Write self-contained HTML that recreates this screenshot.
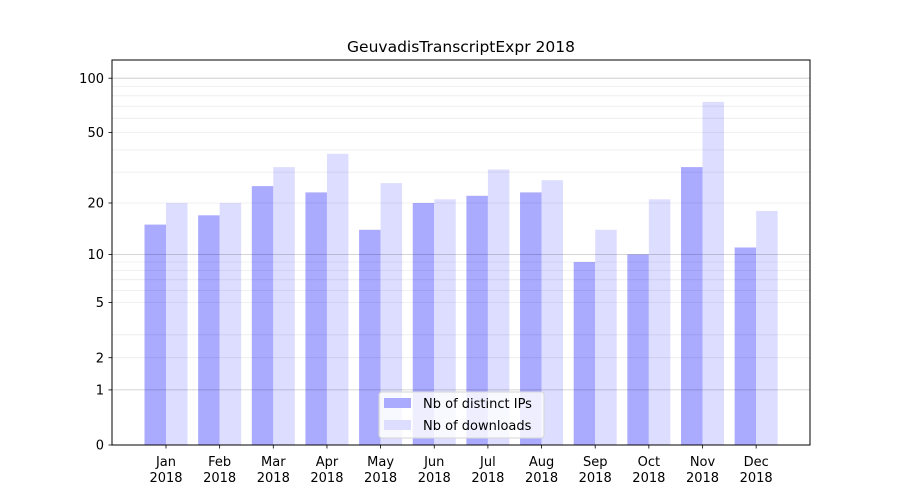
<!DOCTYPE html>
<html><head><meta charset="utf-8"><style>body{margin:0;background:#fff}svg{display:block;font-family:"DejaVu Sans","Liberation Sans",sans-serif}</style></head><body>
<svg width="900" height="500" viewBox="0 0 900 500" xmlns="http://www.w3.org/2000/svg">
<rect width="900" height="500" fill="#fff"/>
<g fill="#aaaaff">
<rect x="144.5" y="224.6" width="21.5" height="220.4"/>
<rect x="198.15" y="215.3" width="21.5" height="229.7"/>
<rect x="251.8" y="186.1" width="21.5" height="258.9"/>
<rect x="305.45" y="192.4" width="21.5" height="252.6"/>
<rect x="359.1" y="229.8" width="21.5" height="215.2"/>
<rect x="412.75" y="203" width="21.5" height="242"/>
<rect x="466.4" y="195.8" width="21.5" height="249.2"/>
<rect x="520.05" y="192.4" width="21.5" height="252.6"/>
<rect x="573.7" y="262" width="21.5" height="183"/>
<rect x="627.35" y="254.4" width="21.5" height="190.6"/>
<rect x="681" y="167.1" width="21.5" height="277.9"/>
<rect x="734.65" y="247.5" width="21.5" height="197.5"/>
</g>
<g fill="#ddddff">
<rect x="166" y="203" width="21.5" height="242"/>
<rect x="219.65" y="203" width="21.5" height="242"/>
<rect x="273.3" y="167.1" width="21.5" height="277.9"/>
<rect x="326.95" y="153.8" width="21.5" height="291.2"/>
<rect x="380.6" y="183.1" width="21.5" height="261.9"/>
<rect x="434.25" y="199.3" width="21.5" height="245.7"/>
<rect x="487.9" y="169.5" width="21.5" height="275.5"/>
<rect x="541.55" y="180.2" width="21.5" height="264.8"/>
<rect x="595.2" y="229.8" width="21.5" height="215.2"/>
<rect x="648.85" y="199.3" width="21.5" height="245.7"/>
<rect x="702.5" y="101.9" width="21.5" height="343.1"/>
<rect x="756.15" y="211" width="21.5" height="234"/>
</g>
<g stroke="#000" stroke-opacity="0.08" stroke-width="0.8">
<line x1="112" x2="810" y1="357.7" y2="357.7"/><line x1="112" x2="810" y1="334.8" y2="334.8"/><line x1="112" x2="810" y1="302.6" y2="302.6"/><line x1="112" x2="810" y1="290.4" y2="290.4"/><line x1="112" x2="810" y1="279.7" y2="279.7"/><line x1="112" x2="810" y1="270.4" y2="270.4"/><line x1="112" x2="810" y1="262" y2="262"/>
<line x1="112" x2="810" y1="203" y2="203"/><line x1="112" x2="810" y1="172.1" y2="172.1"/><line x1="112" x2="810" y1="149.9" y2="149.9"/><line x1="112" x2="810" y1="132.5" y2="132.5"/><line x1="112" x2="810" y1="118.3" y2="118.3"/><line x1="112" x2="810" y1="106.2" y2="106.2"/><line x1="112" x2="810" y1="95.8" y2="95.8"/><line x1="112" x2="810" y1="86.5" y2="86.5"/>
</g>
<g stroke="#000" stroke-opacity="0.22" stroke-width="0.8">
<line x1="112" x2="810" y1="389.9" y2="389.9"/><line x1="112" x2="810" y1="254.4" y2="254.4"/><line x1="112" x2="810" y1="78.2" y2="78.2"/>
</g>
<rect x="112" y="60" width="698" height="385" fill="none" stroke="#000" stroke-width="1"/>
<g stroke="#000" stroke-width="0.8">
<line x1="108.5" x2="112" y1="445" y2="445"/><line x1="108.5" x2="112" y1="389.9" y2="389.9"/><line x1="108.5" x2="112" y1="357.7" y2="357.7"/><line x1="108.5" x2="112" y1="302.6" y2="302.6"/><line x1="108.5" x2="112" y1="254.4" y2="254.4"/><line x1="108.5" x2="112" y1="203" y2="203"/><line x1="108.5" x2="112" y1="132.5" y2="132.5"/><line x1="108.5" x2="112" y1="78.2" y2="78.2"/>
<line x1="166" x2="166" y1="445" y2="448.5"/><line x1="219.65" x2="219.65" y1="445" y2="448.5"/><line x1="273.3" x2="273.3" y1="445" y2="448.5"/><line x1="326.95" x2="326.95" y1="445" y2="448.5"/><line x1="380.6" x2="380.6" y1="445" y2="448.5"/><line x1="434.25" x2="434.25" y1="445" y2="448.5"/><line x1="487.9" x2="487.9" y1="445" y2="448.5"/><line x1="541.55" x2="541.55" y1="445" y2="448.5"/><line x1="595.2" x2="595.2" y1="445" y2="448.5"/><line x1="648.85" x2="648.85" y1="445" y2="448.5"/><line x1="702.5" x2="702.5" y1="445" y2="448.5"/><line x1="756.15" x2="756.15" y1="445" y2="448.5"/>
</g>
<g font-size="13" text-anchor="end" fill="#000">
<text x="104" y="449.5">0</text><text x="104" y="394.5">1</text><text x="104" y="362.5">2</text><text x="104" y="307">5</text><text x="104" y="259">10</text><text x="104" y="207.5">20</text><text x="104" y="137">50</text><text x="104" y="83">100</text>
</g>
<g font-size="13" text-anchor="middle" fill="#000">
<text x="166" y="466">Jan</text><text x="166" y="482">2018</text>
<text x="219.65" y="466">Feb</text><text x="219.65" y="482">2018</text>
<text x="273.3" y="466">Mar</text><text x="273.3" y="482">2018</text>
<text x="326.95" y="466">Apr</text><text x="326.95" y="482">2018</text>
<text x="380.6" y="466">May</text><text x="380.6" y="482">2018</text>
<text x="434.25" y="466">Jun</text><text x="434.25" y="482">2018</text>
<text x="487.9" y="466">Jul</text><text x="487.9" y="482">2018</text>
<text x="541.55" y="466">Aug</text><text x="541.55" y="482">2018</text>
<text x="595.2" y="466">Sep</text><text x="595.2" y="482">2018</text>
<text x="648.85" y="466">Oct</text><text x="648.85" y="482">2018</text>
<text x="702.5" y="466">Nov</text><text x="702.5" y="482">2018</text>
<text x="756.15" y="466">Dec</text><text x="756.15" y="482">2018</text>
<text x="461" y="52" font-size="15.5">GeuvadisTranscriptExpr 2018</text>
</g>
<rect x="379" y="392" width="165" height="46" rx="3" fill="#fff" fill-opacity="0.8" stroke="#d5d5d5"/>
<rect x="384" y="398" width="27" height="10" fill="#aaaaff"/>
<rect x="384" y="420" width="27" height="10" fill="#ddddff"/>
<g font-size="13" fill="#000">
<text x="423" y="408">Nb of distinct IPs</text>
<text x="423" y="430">Nb of downloads</text>
</g>
</svg>
</body></html>
